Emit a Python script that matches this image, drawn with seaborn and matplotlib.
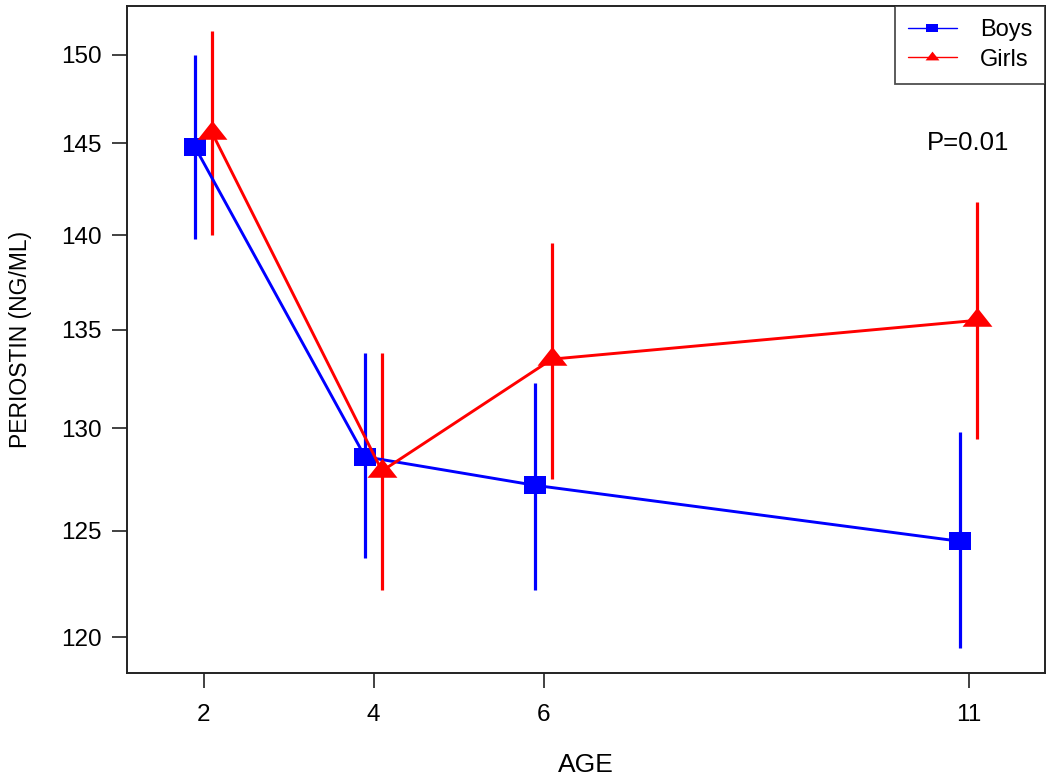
import numpy as np
import pandas as pd
import matplotlib
matplotlib.use("Agg")
import matplotlib.pyplot as plt
import seaborn as sns
from matplotlib.lines import Line2D
from matplotlib.markers import MarkerStyle
from matplotlib.ticker import FixedLocator, FixedFormatter, NullLocator

# ---- data ----
ages = [2, 4, 6, 11]
boys_mean = [144.8, 128.6, 127.2, 124.5]
boys_low = [139.8, 123.7, 122.2, 119.5]
boys_high = [150.0, 133.8, 132.3, 129.8]
girls_mean = [145.6, 127.9, 133.5, 135.5]
girls_low = [140.0, 122.2, 127.5, 129.5]
girls_high = [151.4, 133.8, 139.6, 141.8]
groups = ["Boys", "Girls"]
y_ticks = [120, 125, 130, 135, 140, 145, 150]
p_label = "P=0.01"

x_offset = {"Boys": -0.1, "Girls": 0.1}
palette = {"Boys": "#0000ff", "Girls": "#ff0000"}

rows = []
for g, m, lo, hi in [("Boys", boys_mean, boys_low, boys_high),
                     ("Girls", girls_mean, girls_low, girls_high)]:
    for a, mm, l, h in zip(ages, m, lo, hi):
        rows.append({"group": g, "age": a, "x": a + x_offset[g],
                     "mean": mm, "low": l, "high": h})
df = pd.DataFrame(rows)

sns.set_theme(style="white")
plt.rcParams['font.family'] = ['Liberation Sans', 'DejaVu Sans']
plt.rcParams['text.color'] = 'black'
plt.rcParams['axes.labelcolor'] = 'black'
plt.rcParams['xtick.color'] = 'black'
plt.rcParams['ytick.color'] = 'black'

W, H = 1050, 777
fig = plt.figure(figsize=(W / 100, H / 100), dpi=100)
L, R, T, B = 127, 1045, 6, 673
ax = fig.add_axes([L / W, 1 - B / H, (R - L) / W, (B - T) / H])
ax.set_yscale('log')

sq = MarkerStyle([(-1.2, -0.95), (1.2, -0.95), (1.2, 0.95), (-1.2, 0.95)])
tri = MarkerStyle([(0, 1.27), (-1.5, -0.63), (1.5, -0.63)])
markers = {"Boys": sq, "Girls": tri}
msize = {"Boys": 16.5, "Girls": 21.5}

# error bars
for g in groups:
    d = df[df.group == g]
    ax.vlines(d["x"], d["low"], d["high"], colors=palette[g], lw=2.3, zorder=1.5)

for g in groups:
    d = df[df.group == g]
    sns.lineplot(data=d, x="x", y="mean", ax=ax, color=palette[g],
                 marker=markers[g], markersize=msize[g], markeredgewidth=0,
                 lw=2.1, legend=False, sort=False, zorder=2)

# limits (R-style 4% padding, log y)
ax.set_xlim(1.1, 11.9)
lo = np.log(min(boys_low + girls_low))
hi = np.log(max(boys_high + girls_high))
pad = 0.04 * (hi - lo)
ax.set_ylim(np.exp(lo - pad), np.exp(hi + pad))

ax.xaxis.set_major_locator(FixedLocator(ages))
ax.xaxis.set_major_formatter(FixedFormatter([str(a) for a in ages]))
ax.yaxis.set_major_locator(FixedLocator(y_ticks))
ax.yaxis.set_major_formatter(FixedFormatter([str(v) for v in y_ticks]))
ax.yaxis.set_minor_locator(NullLocator())
ax.xaxis.set_minor_locator(NullLocator())
ax.tick_params(axis='both', which='major', direction='out', length=11, width=1.3,
               color='#333333', labelcolor='black', labelsize=17.5,
               left=True, bottom=True)
ax.tick_params(axis='y', pad=7)
ax.tick_params(axis='x', pad=11)

for s in ax.spines.values():
    s.set_color('#222222')
    s.set_linewidth(1.4)

ax.set_xlabel("AGE", fontsize=19)
ax.set_ylabel("PERIOSTIN (NG/ML)", fontsize=16.5)
ax.xaxis.set_label_coords(0.5, -0.12)
ax.yaxis.set_label_coords(-0.103, 0.5)

ax.text(11, 145, p_label, ha='center', va='center', fontsize=18.5)

handles = [Line2D([], [], color=palette[g], lw=1, marker=markers[g],
                  markersize=8 if g == "Boys" else 10, markeredgewidth=0)
           for g in groups]
leg = ax.legend(handles, groups, loc='upper right', frameon=True, fancybox=False,
                edgecolor='#222222', fontsize=17, borderaxespad=0,
                handlelength=2.1, handletextpad=0.95, borderpad=0.55,
                labelspacing=0.32)
leg.get_frame().set_linewidth(1.3)

fig.savefig("out.png", dpi=100)
